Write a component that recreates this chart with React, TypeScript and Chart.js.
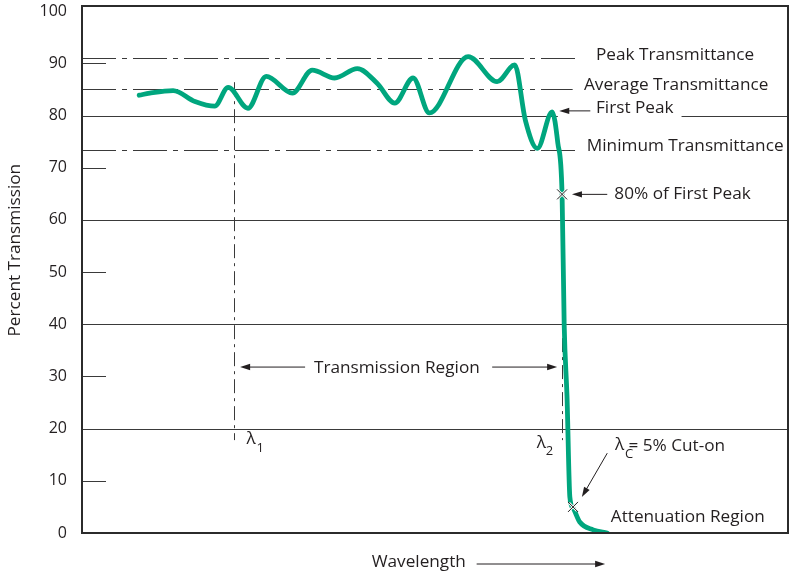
import { useEffect, useRef } from "react";
import { Chart, registerables } from "chart.js";

Chart.register(...registerables);

// ---- data (relative wavelength 0..100, percent transmission) ----
const wavelength = [8.1, 9.6, 12.9, 16.0, 18.8, 20.7, 23.5, 26.1, 29.8, 32.6, 35.8, 39.0, 41.8, 44.3, 46.9, 49.2, 54.7, 58.8, 61.3, 62.8, 64.5, 66.6, 67.4, 68.0, 68.3, 68.7, 69.1, 69.55, 70.5, 72.4, 74.4];
const transmission = [83.9, 84.3, 84.8, 82.7, 81.8, 85.4, 81.4, 87.5, 84.3, 88.7, 87.2, 89.0, 86.2, 82.4, 87.2, 80.5, 91.3, 86.5, 89.7, 79.1, 73.7, 80.7, 74.7, 64.9, 39.8, 26.1, 6.9, 4.8, 2.1, 0.6, 0.0];

const yTicks = [0, 10, 20, 30, 40, 50, 60, 70, 80, 90, 100];
const fullGridValues = [20, 40, 60, 80];
const shortTickValues = [10, 30, 50, 70, 90];

const levelNames = ["Peak Transmittance", "Average Transmittance", "Minimum Transmittance"];
const levelValues = [91.1, 85.0, 73.4];
const levelEnds = [70.5, 69.5, 70.5];
const levelLabelX = [72.8, 71.1, 71.5];
const levelLabelY = [91.5, 85.9, 74.2];

const lambda1 = 21.5;
const lambda2 = 68.0;
const firstPeak = 80.7;
const eightyPct = 64.9;
const cutOnX = 69.55;
const cutOnPct = 5;

const TEXT = "#231f20";
const LINE = "#3a3a3a";
const GREEN = "#00a67e";
const FONT = '"Open Sans", "Noto Sans", sans-serif';
const FS = 17.2;

function arrow(ctx: CanvasRenderingContext2D, x1: number, y1: number, x2: number, y2: number) {
  const ang = Math.atan2(y2 - y1, x2 - x1);
  const hl = 10, hw = 3.2;
  ctx.beginPath();
  ctx.moveTo(x1, y1);
  ctx.lineTo(x2 - Math.cos(ang) * hl * 0.8, y2 - Math.sin(ang) * hl * 0.8);
  ctx.stroke();
  ctx.beginPath();
  ctx.moveTo(x2, y2);
  ctx.lineTo(x2 - Math.cos(ang) * hl - Math.sin(ang) * hw, y2 - Math.sin(ang) * hl + Math.cos(ang) * hw);
  ctx.lineTo(x2 - Math.cos(ang) * hl + Math.sin(ang) * hw, y2 - Math.sin(ang) * hl - Math.cos(ang) * hw);
  ctx.closePath();
  ctx.fill();
}

function marker(ctx: CanvasRenderingContext2D, cx: number, cy: number) {
  const s = 5;
  ctx.save();
  ctx.strokeStyle = "#ffffff";
  ctx.lineWidth = 2.5;
  ctx.beginPath();
  ctx.moveTo(cx - s + 1, cy - s + 1); ctx.lineTo(cx + s - 1, cy + s - 1);
  ctx.moveTo(cx - s + 1, cy + s - 1); ctx.lineTo(cx + s - 1, cy - s + 1);
  ctx.stroke();
  ctx.strokeStyle = "#222";
  ctx.lineWidth = 1;
  ctx.beginPath();
  ctx.moveTo(cx - s, cy - s); ctx.lineTo(cx + s, cy + s);
  ctx.moveTo(cx - s, cy + s); ctx.lineTo(cx + s, cy - s);
  ctx.stroke();
  ctx.restore();
}

const annotPlugin = {
  id: "annot",
  beforeDatasetsDraw(chart: any) {
    const { ctx, chartArea: a, scales } = chart;
    const x = scales.x, y = scales.y;
    ctx.save();
    ctx.strokeStyle = LINE;
    ctx.lineWidth = 1;
    // full grid lines (80 interrupted by "First Peak" label)
    ctx.font = `${FS}px ${FONT}`;
    const fpStart = x.getPixelForValue(67.4);
    const fpEnd = x.getPixelForValue(72.8) + ctx.measureText("First Peak").width + 8;
    for (const v of fullGridValues) {
      const py = Math.round(y.getPixelForValue(v)) + 0.5;
      ctx.beginPath();
      if (v === 80) {
        ctx.moveTo(a.left, py); ctx.lineTo(fpStart, py);
        ctx.moveTo(fpEnd, py); ctx.lineTo(a.right, py);
      } else {
        ctx.moveTo(a.left, py); ctx.lineTo(a.right, py);
      }
      ctx.stroke();
    }
    // short ticks
    for (const v of shortTickValues) {
      const py = Math.round(y.getPixelForValue(v)) + 0.5;
      ctx.beginPath();
      ctx.moveTo(a.left, py); ctx.lineTo(a.left + 24, py);
      ctx.stroke();
    }
    // dash-dot level lines
    ctx.setLineDash([34, 6, 5, 6]);
    levelValues.forEach((v, i) => {
      const py = Math.round(y.getPixelForValue(v)) + 0.5;
      ctx.beginPath();
      ctx.moveTo(a.left, py); ctx.lineTo(x.getPixelForValue(levelEnds[i]), py);
      ctx.stroke();
    });
    // vertical lambda lines
    ctx.setLineDash([14, 5, 3, 5]);
    const l1 = Math.round(x.getPixelForValue(lambda1)) + 0.5;
    ctx.beginPath();
    ctx.moveTo(l1, y.getPixelForValue(86.4)); ctx.lineTo(l1, y.getPixelForValue(17.8));
    ctx.stroke();
    const l2 = Math.round(x.getPixelForValue(lambda2)) + 0.5;
    ctx.beginPath();
    ctx.moveTo(l2, y.getPixelForValue(68.4)); ctx.lineTo(l2, y.getPixelForValue(17.8));
    ctx.stroke();
    ctx.restore();
  },
  afterDatasetsDraw(chart: any) {
    const { ctx, chartArea: a, scales } = chart;
    const x = scales.x, y = scales.y;
    const X = (v: number) => x.getPixelForValue(v);
    const Y = (v: number) => y.getPixelForValue(v);
    ctx.save();
    // frame
    ctx.strokeStyle = "#2b2b2b";
    ctx.lineWidth = 2;
    ctx.strokeRect(a.left, a.top, a.right - a.left, a.bottom - a.top);

    ctx.fillStyle = TEXT;
    ctx.strokeStyle = TEXT;
    ctx.lineWidth = 1;
    ctx.font = `${FS}px ${FONT}`;
    ctx.textBaseline = "middle";
    ctx.textAlign = "left";
    // level labels
    levelNames.forEach((n, i) => ctx.fillText(n, X(levelLabelX[i]), Y(levelLabelY[i])));
    // first peak
    ctx.fillText("First Peak", X(72.8), Y(81.4));
    arrow(ctx, X(72.0), Y(firstPeak + 0.2), X(67.6), Y(firstPeak + 0.2));
    // 80% of first peak
    ctx.fillText("80% of First Peak", X(75.4), Y(65.0));
    arrow(ctx, X(74.4), Y(eightyPct), X(69.4), Y(eightyPct));
    // transmission region
    ctx.textAlign = "center";
    ctx.fillText("Transmission Region", X(44.6), Y(31.6));
    arrow(ctx, X(31.6), Y(31.8), X(22.4), Y(31.8));
    arrow(ctx, X(58.1), Y(31.8), X(67.3), Y(31.8));
    ctx.textAlign = "left";
    // lambda labels
    ctx.fillText("λ", X(23.3), Y(17.9));
    ctx.fillText("λ", X(64.4), Y(17.3));
    ctx.fillText("λ", X(75.5), Y(16.8));
    ctx.fillText("= 5% Cut-on", X(77.4), Y(16.6));
    ctx.font = `13px ${FONT}`;
    ctx.fillText("1", X(24.7), Y(16.3));
    ctx.fillText("2", X(65.7), Y(15.6));
    ctx.fillText("C", X(76.9), Y(15.1));
    ctx.font = `${FS}px ${FONT}`;
    arrow(ctx, X(74.4), Y(15.3), X(70.8), Y(6.9));
    // attenuation region
    ctx.fillText("Attenuation Region", X(74.9), Y(3.1));
    // wavelength
    ctx.textAlign = "center";
    ctx.fillText("Wavelength", X(47.7), a.bottom + 29);
    arrow(ctx, X(55.9), a.bottom + 31, X(74.1), a.bottom + 31);
    // y title
    ctx.save();
    ctx.translate(a.left - 67, Y(54.2));
    ctx.rotate(-Math.PI / 2);
    ctx.fillText("Percent Transmission", 0, 0);
    ctx.restore();
    // markers
    marker(ctx, X(lambda2), Y(eightyPct));
    marker(ctx, X(cutOnX), Y(cutOnPct));
    ctx.restore();
  },
};

export default function App() {
  const ref = useRef<HTMLCanvasElement>(null);
  useEffect(() => {
    if (!ref.current) return;
    const chart = new Chart(ref.current, {
      type: "line",
      data: {
        datasets: [
          {
            data: wavelength.map((w, i) => ({ x: w, y: transmission[i] })),
            borderColor: GREEN,
            borderWidth: 4.8,
            pointRadius: 0,
            cubicInterpolationMode: "monotone",
            borderCapStyle: "round",
            borderJoinStyle: "round",
            fill: false,
          },
        ],
      },
      options: {
        animation: false,
        responsive: false,
        layout: { padding: { top: 6, right: 2, bottom: 40, left: 0 } },
        plugins: { legend: { display: false }, tooltip: { enabled: false }, title: { display: false } },
        scales: {
          x: { type: "linear", min: 0, max: 100, display: false },
          y: {
            type: "linear",
            min: 0,
            max: 101,
            grid: { display: false, drawTicks: false },
            border: { display: false },
            afterBuildTicks: (s: any) => { s.ticks = yTicks.map((v) => ({ value: v })); },
            afterFit: (s: any) => { s.width = 82; s.paddingTop = 0; s.paddingBottom = 0; },
            ticks: { padding: 15, color: TEXT, font: { family: FONT, size: 16 } },
          },
        },
      },
      plugins: [annotPlugin],
    });
    return () => chart.destroy();
  }, []);
  return (
    <div style={{ position: "absolute", left: 0, top: 0, width: 790, height: 573, background: "#fff" }}>
      <canvas ref={ref} width={790} height={573} style={{ display: "block" }} />
    </div>
  );
}
